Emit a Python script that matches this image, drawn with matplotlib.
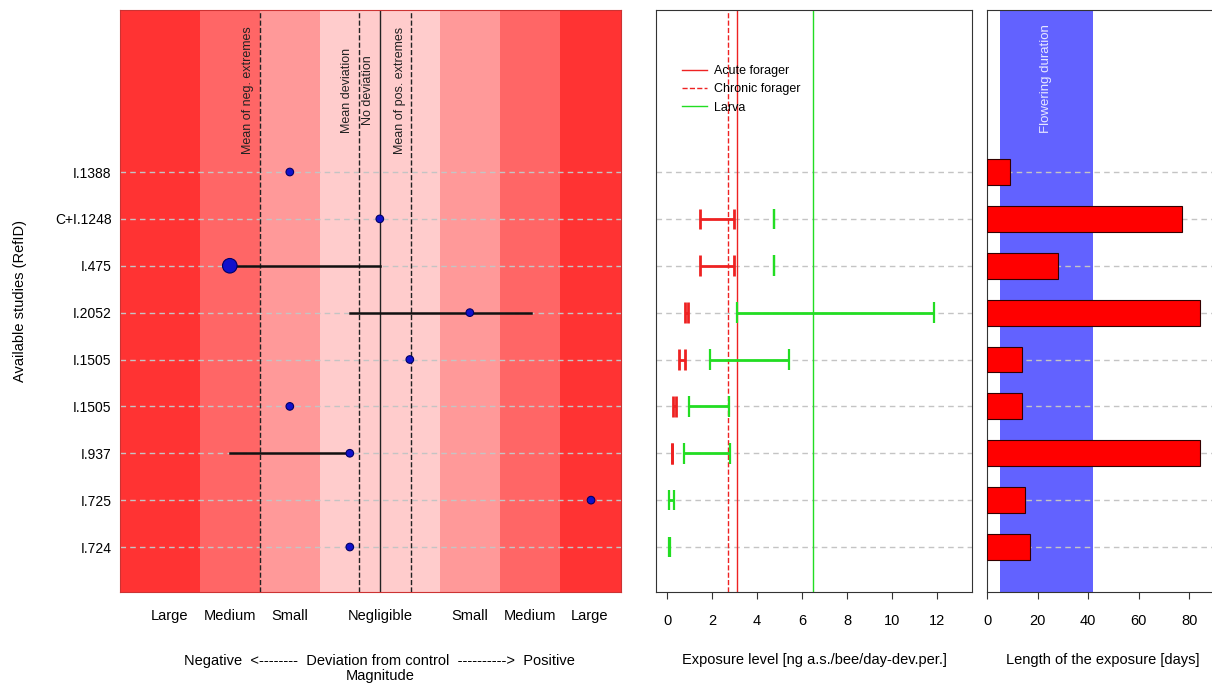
import numpy as np
import matplotlib
matplotlib.use('Agg')
import matplotlib.pyplot as plt
import matplotlib.transforms as mtransforms

plt.rcParams['font.family'] = ['Liberation Sans', 'DejaVu Sans']

# studies, from top to bottom
studies = ['I.1388', 'C+I.1248', 'I.475', 'I.2052', 'I.1505', 'I.1505', 'I.937', 'I.725', 'I.724']
rows = np.arange(len(studies), 0, -1)

# deviation from control (magnitude scale, 0 = no deviation)
dev_point = [-1.5, 0.0, -2.5, 1.5, 0.5, -1.5, -0.5, 3.52, -0.5]
dev_lo = [np.nan, np.nan, -2.5, -0.5, np.nan, np.nan, -2.5, np.nan, np.nan]
dev_hi = [np.nan, np.nan, 0.0, 2.52, np.nan, np.nan, -0.5, np.nan, np.nan]
dev_size = [30, 30, 110, 30, 30, 30, 30, 30, 30]

band_edges = [-4.33, -3, -2, -1, 1, 2, 3, 4.02]
band_colors = ['#ff3333', '#ff6666', '#ff9999', '#ffcccc', '#ff9999', '#ff6666', '#ff3333']
mag_ticks = [-3.5, -2.5, -1.5, 0, 1.5, 2.5, 3.5]
mag_labels = ['Large', 'Medium', 'Small', 'Negligible', 'Small', 'Medium', 'Large']

ref_lines = [-2.0, -0.35, 0.0, 0.52]
ref_labels = ['Mean of neg. extremes', 'Mean deviation', 'No deviation', 'Mean of pos. extremes']
ref_styles = ['--', '--', '-', '--']

# exposure level [ng a.s./bee/day-dev.per.]
forager_lo = [np.nan, 1.47, 1.47, 0.81, 0.55, 0.28, 0.22, np.nan, np.nan]
forager_hi = [np.nan, 2.98, 2.98, 0.93, 0.80, 0.40, 0.22, np.nan, np.nan]
larva_lo = [np.nan, 4.76, 4.76, 3.11, 1.93, 0.98, 0.74, 0.09, 0.08]
larva_hi = [np.nan, 4.76, 4.76, 11.85, 5.42, 2.74, 2.79, 0.32, 0.14]
acute_forager = 3.11
chronic_forager = 2.70
larva_thr = 6.49

# length of exposure [days]
exp_days = [9, 77, 28, 84, 14, 14, 84, 15, 17]
flowering = (5, 42)

fig = plt.figure(figsize=(12.12, 6.86), dpi=100)
ax1 = fig.add_axes([0.099, 0.137, 0.4134, 0.848])
ax2 = fig.add_axes([0.5413, 0.137, 0.2607, 0.848])
ax3 = fig.add_axes([0.8144, 0.137, 0.1870, 0.848])

ylim = (0.04, 12.45)
grid_kw = dict(color='#c4c4c4', linestyle=(0, (4, 3)), linewidth=1.0, zorder=1)

# ---- panel 1: deviation from control
for i in range(len(band_colors)):
    ax1.axvspan(band_edges[i], band_edges[i + 1], color=band_colors[i], lw=0, zorder=0)
for r in rows:
    ax1.axhline(r, **grid_kw)
for x, lab, ls in zip(ref_lines, ref_labels, ref_styles):
    ax1.axvline(x, color='#222222', linestyle=ls, linewidth=1.0, zorder=2)
    ax1.text(x - 0.19, 10.74, lab, rotation=90, ha='center', va='center', fontsize=9, color='#222222')
for r, lo, hi in zip(rows, dev_lo, dev_hi):
    if not np.isnan(lo):
        ax1.plot([lo, hi], [r, r], color='#111111', linewidth=1.8, zorder=3)
ax1.scatter(dev_point, rows, s=dev_size, color='#1010cc', edgecolors='#000066', linewidths=0.8, zorder=4)
ax1.set_xlim(band_edges[0], band_edges[-1])
ax1.set_ylim(*ylim)
ax1.set_yticks(rows)
ax1.set_yticklabels(studies, fontsize=10)
ax1.set_xticks(mag_ticks)
ax1.set_xticklabels(mag_labels, fontsize=10.5)
ax1.tick_params(axis='both', length=0)
ax1.tick_params(axis='x', pad=12)
ax1.tick_params(axis='y', pad=6)
ax1.set_ylabel('Available studies (RefID)', fontsize=10.5, labelpad=20)
trans1 = mtransforms.blended_transform_factory(ax1.transData, ax1.transAxes)
ax1.text(0, -0.106, 'Negative  <--------  Deviation from control  ---------->  Positive\nMagnitude',
         transform=trans1, ha='center', va='top', fontsize=10.5, linespacing=1.1)
for s in ax1.spines.values():
    s.set_color('#cc3333')
    s.set_linewidth(0.8)

# ---- panel 2: exposure level
for r in rows:
    ax2.axhline(r, **grid_kw)
ax2.axvline(acute_forager, color='#ee2222', linewidth=1.0, label='Acute forager', zorder=2)
ax2.axvline(chronic_forager, color='#ee2222', linestyle='--', linewidth=1.0, label='Chronic forager', zorder=2)
ax2.axvline(larva_thr, color='#22dd22', linewidth=1.0, label='Larva', zorder=2)
cap = 0.22
for r, lo, hi in zip(rows, forager_lo, forager_hi):
    if not np.isnan(lo):
        ax2.hlines(r, lo, hi, color='#ee2222', linewidth=2, zorder=3)
        ax2.vlines([lo, hi], r - cap, r + cap, color='#ee2222', linewidth=2, zorder=3)
for r, lo, hi in zip(rows, larva_lo, larva_hi):
    if not np.isnan(lo):
        ax2.hlines(r, lo, hi, color='#22dd22', linewidth=2, zorder=3)
        ax2.vlines([lo, hi], r - cap, r + cap, color='#22dd22', linewidth=1.6, zorder=3)
ax2.set_xlim(-0.49, 13.56)
ax2.set_ylim(*ylim)
ax2.set_yticks([])
ax2.set_xticks(range(0, 13, 2))
ax2.tick_params(axis='x', length=5, width=0.8, labelsize=10.5, pad=11, color='#333333')
ax2.legend(loc='upper left', bbox_to_anchor=(0.045, 0.925), frameon=False, fontsize=9,
           handlelength=2.0, handletextpad=0.6, labelspacing=0.5)
ax2.text(0.5, -0.117, 'Exposure level [ng a.s./bee/day-dev.per.]', transform=ax2.transAxes,
         ha='center', va='center', fontsize=10.5)
for s in ax2.spines.values():
    s.set_color('#333333')
    s.set_linewidth(0.8)

# ---- panel 3: length of exposure
ax3.axvspan(flowering[0], flowering[1], color='#6262ff', lw=0, zorder=0)
ax3.text(sum(flowering) / 2, 12.15, 'Flowering duration', rotation=90, ha='center', va='top',
         fontsize=9.5, color='#e8e8ff')
for r in rows:
    ax3.axhline(r, **grid_kw)
ax3.barh(rows, exp_days, height=0.55, color='#ff0000', edgecolor='#330000', linewidth=0.8, zorder=3)
ax3.set_xlim(0, 89.6)
ax3.set_ylim(*ylim)
ax3.set_yticks([])
ax3.set_xticks(range(0, 81, 20))
ax3.tick_params(axis='x', length=5, width=0.8, labelsize=10.5, pad=11, color='#333333')
ax3.text(0.51, -0.117, 'Length of the exposure [days]', transform=ax3.transAxes,
         ha='center', va='center', fontsize=10.5)
ax3.spines['right'].set_visible(False)
for s in ax3.spines.values():
    s.set_color('#333333')
    s.set_linewidth(0.8)

fig.savefig('out.png', dpi=100)
